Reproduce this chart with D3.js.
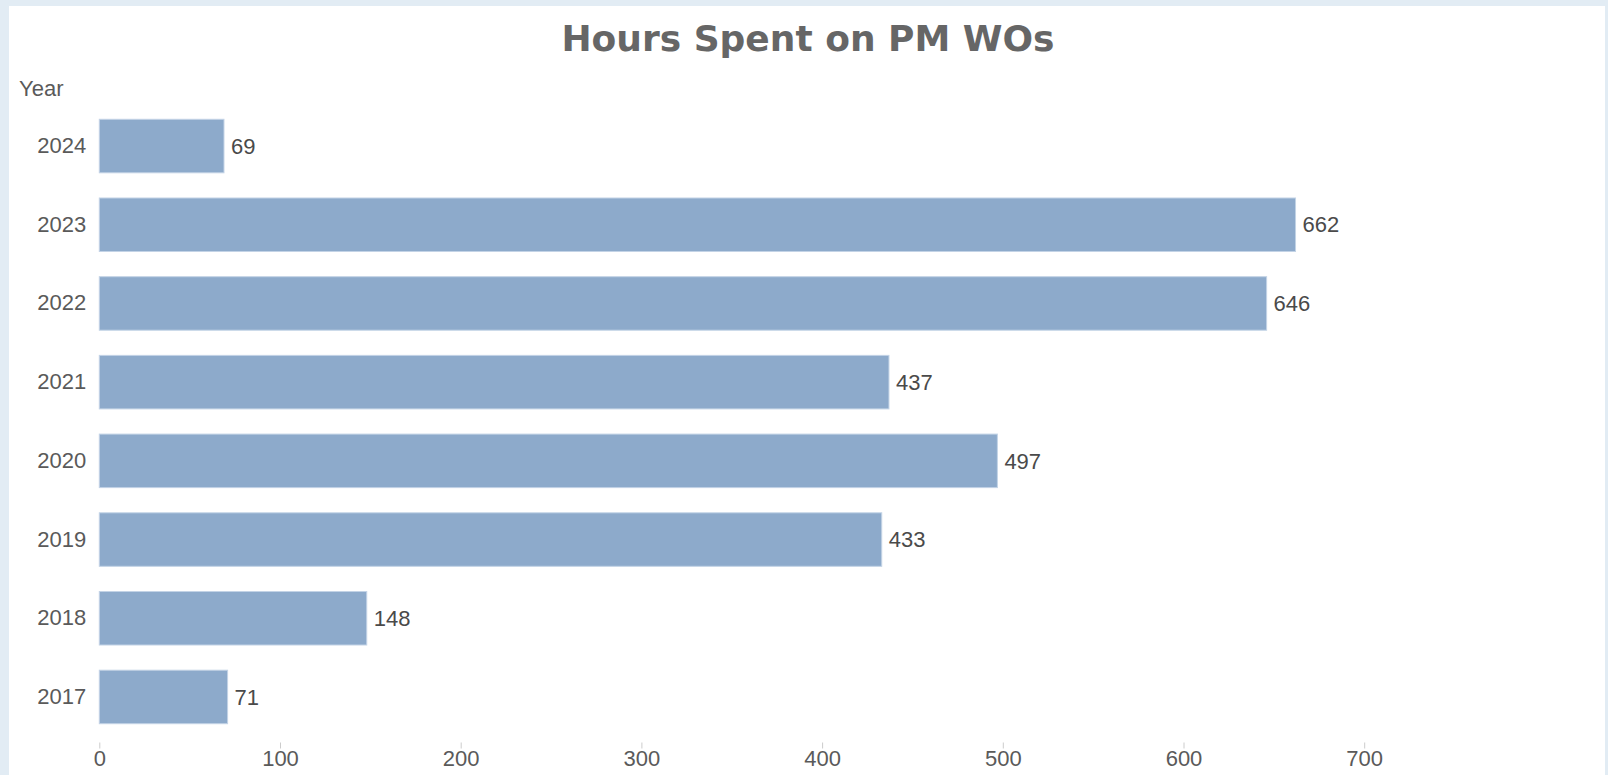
<!DOCTYPE html>
<html>
<head>
<meta charset="utf-8">
<script src="https://cdn.jsdelivr.net/npm/d3@7"></script>
<style>
  body { margin: 0; background: #E2ECF4; }
  svg { display: block; }
</style>
</head>
<body>
<script>
// dados do grafico
let years = ['2024', '2023', '2022', '2021', '2020', '2019', '2018', '2017'];
let hours = [69, 662, 646, 437, 497, 433, 148, 71];
let xTicks = [0, 100, 200, 300, 400, 500, 600, 700];

let chartTitle = 'Hours Spent on PM WOs';
let dimLabel = 'Year';

const width = 1608, height = 775;

let svg = d3.select('body')
  .append('svg')
  .attr('width', width)
  .attr('height', height)
  ;

// painel branco
svg.append('rect')
  .attr('x', 9)
  .attr('y', 6)
  .attr('width', 1596)
  .attr('height', height - 6)
  .attr('fill', '#ffffff')
  ;

let x = d3.scaleLinear()
  .domain([0, 800])
  .range([99.3, 1544.9])
  ;

let y = d3.scaleBand()
  .domain(years)
  .range([94.1, 748.9])
  .padding(0.32)
  ;

let rows = years.map((yr, i) => ({ year: yr, value: hours[i] }));

svg.append('text')
  .attr('x', 808)
  .attr('y', 51)
  .attr('text-anchor', 'middle')
  .style('font-family', '"DejaVu Sans", Verdana, sans-serif')
  .style('font-weight', 'bold')
  .style('font-size', '36px')
  .style('fill', '#666666')
  .text(chartTitle)
  ;

svg.append('text')
  .attr('x', 19)
  .attr('y', 96)
  .style('font-family', '"Liberation Sans", Arial, sans-serif')
  .style('font-size', '22px')
  .style('fill', '#5a5a5a')
  .text(dimLabel)
  ;

// barras
svg.append('g')
  .selectAll('rect')
  .data(rows)
  .enter()
    .append('rect')
    .attr('x', x(0))
    .attr('y', d => y(d.year))
    .attr('width', d => x(d.value) - x(0))
    .attr('height', y.bandwidth())
    .attr('fill', '#8DAACB')
    .attr('stroke', '#C3D3E6')
    .attr('stroke-width', 1)
    ;

// valores
svg.append('g')
  .selectAll('text')
  .data(rows)
  .enter()
    .append('text')
    .attr('x', d => x(d.value) + 7)
    .attr('y', d => y(d.year) + y.bandwidth() / 2)
    .attr('dy', '0.35em')
    .style('font-family', '"Liberation Sans", Arial, sans-serif')
    .style('font-size', '22px')
    .style('fill', '#4a4a4a')
    .text(d => d.value)
    ;

// rotulos do eixo y
let yAxis = d3.axisLeft(y).tickSize(0).tickPadding(13);

let gy = svg.append('g')
  .attr('transform', 'translate(' + x(0) + ',0)')
  .call(yAxis)
  ;
gy.select('.domain').remove();
gy.selectAll('text')
  .style('font-family', '"Liberation Sans", Arial, sans-serif')
  .style('font-size', '22px')
  .style('fill', '#5a5a5a')
  ;

// eixo x
let xAxis = d3.axisBottom(x).tickValues(xTicks).tickSize(6).tickPadding(2);

let gx = svg.append('g')
  .attr('transform', 'translate(0,742.5)')
  .call(xAxis)
  ;
gx.select('.domain').remove();
gx.selectAll('.tick line').attr('stroke', '#cccccc');
gx.selectAll('text')
  .style('font-family', '"Liberation Sans", Arial, sans-serif')
  .style('font-size', '22px')
  .style('fill', '#5a5a5a')
  ;
</script>
</body>
</html>
